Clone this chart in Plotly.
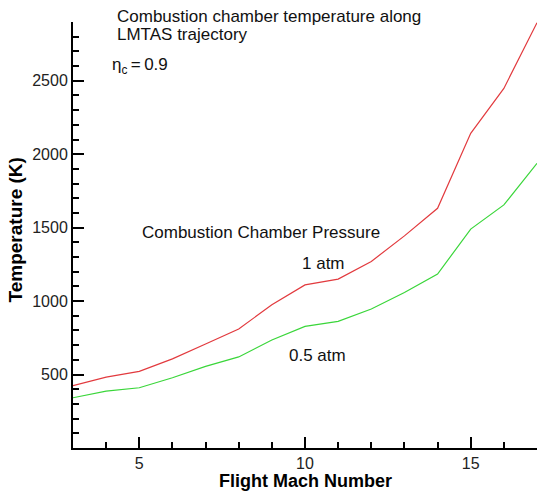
import plotly.graph_objects as go

# Flight Mach number along the LMTAS trajectory
mach = [3, 4, 5, 6, 7, 8, 9, 10, 11, 12, 13, 14, 15, 16, 17]

# Combustion chamber temperature (K) for each chamber pressure
temp_1atm = [425, 482, 522, 607, 708, 810, 975, 1110, 1150, 1270, 1444, 1632, 2142, 2448, 2895]
temp_05atm = [342, 387, 410, 478, 556, 620, 735, 828, 862, 946, 1059, 1184, 1490, 1655, 1938]

x_ticks = [5, 10, 15]
y_ticks = [500, 1000, 1500, 2000, 2500]

FONT = "Liberation Sans, Arial, Helvetica, sans-serif"

fig = go.Figure()
fig.add_trace(go.Scatter(x=mach, y=temp_1atm, mode="lines",
                         line=dict(color="#e23a3e", width=1.2), name="1 atm"))
fig.add_trace(go.Scatter(x=mach, y=temp_05atm, mode="lines",
                         line=dict(color="#3ad63a", width=1.2), name="0.5 atm"))

axis_common = dict(
    showgrid=False, zeroline=False, showline=True, linecolor="black", linewidth=2,
    ticks="inside", ticklen=11, tickwidth=2, tickcolor="black",
    tickfont=dict(family=FONT, size=16, color="#222222"),
    mirror=False,
)

fig.update_xaxes(range=[3, 17], tickvals=x_ticks,
                 minor=dict(dtick=1, ticks="inside", ticklen=6, tickwidth=1.5, tickcolor="black"),
                 **axis_common)
fig.update_yaxes(range=[0, 2900], tickvals=y_ticks,
                 minor=dict(dtick=100, ticks="inside", ticklen=6, tickwidth=1.5, tickcolor="black"),
                 **axis_common)

txt = dict(family=FONT, size=17, color="#111111")
annotations = [
    dict(text="Combustion chamber temperature along", x=0.0905, y=1.0118),
    dict(text="LMTAS trajectory", x=0.0905, y=0.9718),
    dict(text="η<sub>c</sub>\u2009=\u20090.9", x=0.0800, y=0.8965),
    dict(text="Combustion Chamber Pressure", x=0.1444, y=0.506),
    dict(text="1 atm", x=0.489, y=0.433),
    dict(text="0.5 atm", x=0.461, y=0.2165),
]
for a in annotations:
    fig.add_annotation(xref="paper", yref="paper", xanchor="left", yanchor="middle",
                       showarrow=False, font=txt, **a)

fig.add_annotation(text="<b>Flight Mach Number</b>", xref="paper", yref="paper",
                   x=0.502, y=-0.078, xanchor="center", yanchor="middle",
                   showarrow=False, font=dict(family=FONT, size=18, color="black"))
fig.add_annotation(text="<b>Temperature (K)</b>", xref="paper", yref="paper",
                   x=-0.125, y=0.5106, xanchor="center", yanchor="middle", textangle=-90,
                   showarrow=False, font=dict(family=FONT, size=19, color="black"))

fig.update_layout(
    width=540, height=497,
    margin=dict(l=73, r=3, t=22, b=49),
    paper_bgcolor="white", plot_bgcolor="white",
    showlegend=False,
)

fig.write_html("out.html")
